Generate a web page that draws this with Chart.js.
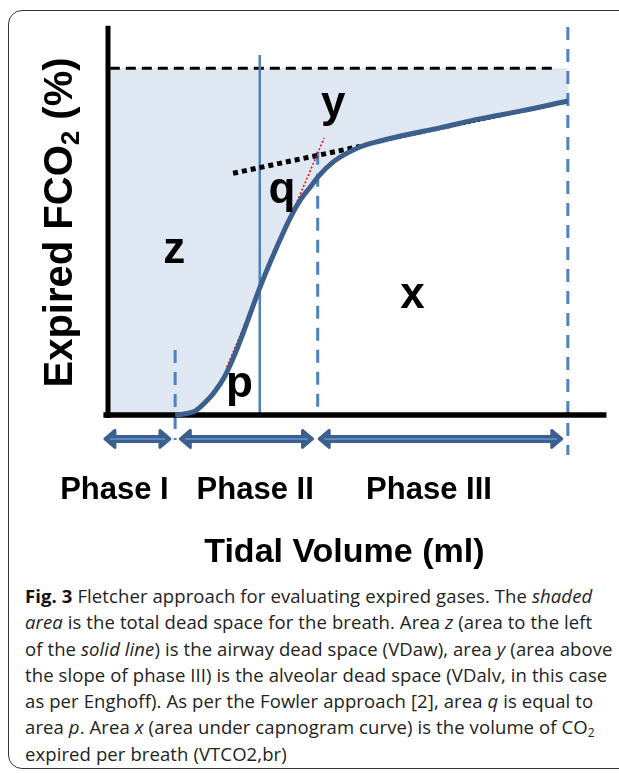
<!DOCTYPE html>
<html>
<head>
<meta charset="utf-8">
<script src="https://cdn.jsdelivr.net/npm/chart.js@4.4.1/dist/chart.umd.min.js"></script>
<style>
html, body { margin: 0; padding: 0; background: #fff; overflow: hidden; }
#page { position: relative; width: 619px; height: 773px; }
#frame { position: absolute; left: 8px; top: 10px; width: 700px; height: 757px; border: 1.5px solid #333; border-radius: 14px; }
#chartBox { position: absolute; left: 0; top: 0; width: 619px; height: 580px; }
#caption { position: absolute; left: 25px; top: 583px; font-family: "Open Sans", sans-serif; font-size: 18.5px; letter-spacing: 0.1px; line-height: 26.3px; color: #222; white-space: nowrap; }
#caption b { color: #111; }
#caption sub { font-size: 12px; vertical-align: -3px; line-height: 0; }
</style>
</head>
<body>
<div id="page">
  <div id="frame"></div>
  <div id="chartBox"><canvas id="chart"></canvas></div>
  <div id="caption">
    <b>Fig. 3</b> Fletcher approach for evaluating expired gases. The <i>shaded</i><br>
    <i>area</i> is the total dead space for the breath. Area <i>z</i> (area to the left<br>
    of the <i>solid line</i>) is the airway dead space (VDaw), area <i>y</i> (area above<br>
    the slope of phase III) is the alveolar dead space (VDalv, in this case<br>
    as per Enghoff). As per the Fowler approach [2], area <i>q</i> is equal to<br>
    area <i>p</i>. Area <i>x</i> (area under capnogram curve) is the volume of CO<sub>2</sub><br>
    expired per breath (VTCO2,br)
  </div>
</div>
<script>
// capnogram: tidal volume (ml) vs expired CO2 (%)
const volume = [73, 84, 95, 105, 116, 127, 138, 149, 165, 182, 198, 209, 220, 230, 245, 258, 274, 296, 317, 361, 404, 448, 500];
const fco2 = [0, 0.02, 0.07, 0.20, 0.39, 0.65, 1.02, 1.46, 2.13, 2.76, 3.30, 3.60, 3.82, 4.02, 4.24, 4.37, 4.49, 4.59, 4.67, 4.81, 4.96, 5.09, 5.26];

const paCO2 = 5.81;                 // top dashed line
const vdawX = 165;                  // solid line, airway dead space
const phaseEnds = [73, 228, 500];   // end of phase I, II, III

// slope of phase III and the phase II tangent
const phase3X = [136, 274, 500];
const phase3Y = [4.05, 4.50, 5.24];
const tangentX = [129, 235];
const tangentY = [0.80, 4.64];

// phase arrows and labels
const phaseNames = ['Phase I', 'Phase II', 'Phase III'];
const arrowFrom = [-5, 77, 228];
const arrowTo = [69, 224, 495];
const phaseLabelX = [7, 160, 349];

// area letters
const areaNames = ['z', 'q', 'y', 'x', 'p'];
const areaX = [72, 189, 245, 331, 143];
const areaY = [2.55, 3.55, 4.99, 1.79, 0.30];

const curve = volume.map((v, i) => ({ x: v, y: fco2[i] }));
const pts = (xs, ys) => xs.map((v, i) => ({ x: v, y: ys[i] }));

const line = (data, color, width, dash, order) => ({
    data: data,
    borderColor: color,
    borderWidth: width,
    borderDash: dash,
    pointRadius: 0,
    fill: false,
    clip: false,
    tension: 0,
    order: order,
});

const BOLD = '"Liberation Sans", Arial, sans-serif';

function drawArrow(ctx, x1, x2, yc) {
    const head = 10, half = 8.5, body = 2.5;
    x1 += 1.5; x2 -= 1.5;
    ctx.fillStyle = '#3d5f8d';
    ctx.strokeStyle = '#3d5f8d';
    ctx.lineJoin = 'round';
    ctx.lineWidth = 3;
    ctx.beginPath();
    ctx.moveTo(x1, yc);
    ctx.lineTo(x1 + head, yc - half);
    ctx.lineTo(x1 + head, yc - body);
    ctx.lineTo(x2 - head, yc - body);
    ctx.lineTo(x2 - head, yc - half);
    ctx.lineTo(x2, yc);
    ctx.lineTo(x2 - head, yc + half);
    ctx.lineTo(x2 - head, yc + body);
    ctx.lineTo(x1 + head, yc + body);
    ctx.lineTo(x1 + head, yc + half);
    ctx.closePath();
    ctx.fill();
    ctx.stroke();
    ctx.strokeStyle = '#5b89c4';
    ctx.lineWidth = 2;
    ctx.beginPath();
    ctx.moveTo(x1 + 5, yc);
    ctx.lineTo(x2 - 5, yc);
    ctx.stroke();
}

const annotations = {
    id: 'annotations',
    afterDraw(chart) {
        const { ctx, scales: { x, y } } = chart;
        ctx.save();

        const ay = y.getPixelForValue(-0.40);
        arrowFrom.forEach((v, i) => drawArrow(ctx, x.getPixelForValue(v), x.getPixelForValue(arrowTo[i]), ay));

        ctx.fillStyle = '#000';
        ctx.textAlign = 'center';
        ctx.textBaseline = 'alphabetic';

        ctx.font = 'bold 44px ' + BOLD;
        areaNames.forEach((t, i) => ctx.fillText(t, x.getPixelForValue(areaX[i]), y.getPixelForValue(areaY[i])));

        ctx.font = 'bold 31px ' + BOLD;
        phaseNames.forEach((t, i) => ctx.fillText(t, x.getPixelForValue(phaseLabelX[i]), y.getPixelForValue(-1.41)));

        ctx.font = 'bold 34px ' + BOLD;
        ctx.fillText('Tidal Volume (ml)', x.getPixelForValue(257), y.getPixelForValue(-2.46));

        // y axis title with subscript
        ctx.translate(x.getPixelForValue(-39), y.getPixelForValue(3.225));
        ctx.rotate(-Math.PI / 2);
        const big = 'bold 40px ' + BOLD, small = 'bold 26px ' + BOLD;
        ctx.font = big;
        const w1 = ctx.measureText('Expired FCO').width;
        const w3 = ctx.measureText(' (%)').width;
        ctx.font = small;
        const w2 = ctx.measureText('2').width;
        const sx = -(w1 + w2 + w3) / 2;
        ctx.textAlign = 'left';
        ctx.font = big;
        ctx.fillText('Expired FCO', sx, 0);
        ctx.font = small;
        ctx.fillText('2', sx + w1, 7);
        ctx.font = big;
        ctx.fillText(' (%)', sx + w1 + w2, 0);

        ctx.restore();
    },
};

new Chart(document.getElementById('chart'), {
    type: 'line',
    data: {
        datasets: [
            {
                data: [{ x: 0, y: 0 }, ...curve],
                borderWidth: 0,
                pointRadius: 0,
                backgroundColor: '#dfe7f2',
                fill: { value: paCO2 },
                cubicInterpolationMode: 'monotone',
                clip: false,
                order: 20,
            },
            line(pts([2, 488], [paCO2, paCO2]), '#000', 3, [10, 6], 15),
            line(pts([vdawX, vdawX], [0, 6.03]), '#4f81bd', 2.5, [], 14),
            line(pts([phaseEnds[0], phaseEnds[0]], [1.09, -0.42]), '#4f81bd', 3, [13, 9], 13),
            line(pts([phaseEnds[1], phaseEnds[1]], [4.41, 0]), '#4f81bd', 3, [13, 9], 13),
            line(pts([phaseEnds[2], phaseEnds[2]], [6.5, -0.67]), '#4f81bd', 3, [13, 9], 13),
            line(pts(phase3X.slice(0, 2), phase3Y.slice(0, 2)), '#000', 5, [5, 4], 10),
            line(pts(phase3X.slice(1), phase3Y.slice(1)), '#000', 1.5, [3, 2], 10),
            line(pts(tangentX, tangentY), '#ff0000', 1.5, [2, 2], 9),
            line(pts([-5, 542], [0, 0]), '#000', 5.5, [], 2),
            line(pts([0, 0], [-0.05, 6.52]), '#000', 5, [], 2),
            {
                data: curve,
                borderColor: '#3c5f8e',
                borderWidth: 5,
                pointRadius: 0,
                fill: false,
                cubicInterpolationMode: 'monotone',
                clip: false,
                order: 0,
            },
        ],
    },
    options: {
        responsive: true,
        maintainAspectRatio: false,
        animation: false,
        layout: { padding: { left: 108, right: 7, top: 27, bottom: 165 } },
        plugins: { legend: { display: false }, tooltip: { enabled: false } },
        scales: {
            x: { type: 'linear', min: 0, max: 548, display: false },
            y: { type: 'linear', min: 0, max: 6.5, display: false },
        },
    },
    plugins: [annotations],
});
</script>
</body>
</html>
